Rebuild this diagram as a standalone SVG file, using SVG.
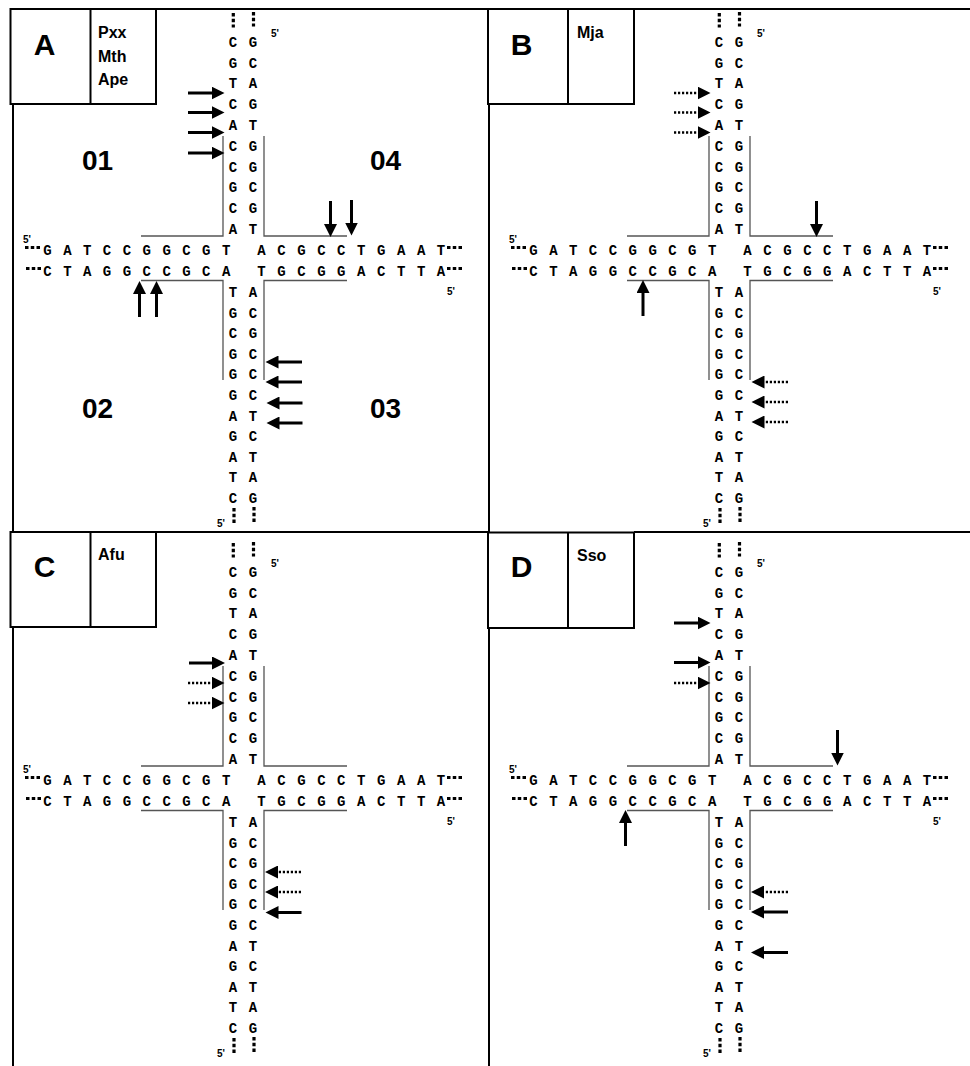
<svg xmlns="http://www.w3.org/2000/svg" width="970" height="1066" viewBox="0 0 970 1066">
<defs>
<style>
.fr{fill:none;stroke:#000;stroke-width:2}
.big{font-family:"Liberation Sans",Arial,sans-serif;font-weight:bold;font-size:30px;text-anchor:middle}
.org{font-family:"Liberation Sans",Arial,sans-serif;font-weight:bold;font-size:16px}
.num{font-family:"Liberation Sans",Arial,sans-serif;font-weight:bold;font-size:28px}
.b{font-family:"Liberation Mono","Courier New",monospace;font-weight:bold;font-size:14px;text-anchor:middle}
.p5{font-family:"Liberation Sans",Arial,sans-serif;font-weight:bold;font-size:10px}
.ln{fill:none;stroke:#555;stroke-width:1.3}
.dt{fill:none;stroke:#000;stroke-width:3.2;stroke-dasharray:3.5 2.25}
.as{fill:none;stroke:#000;stroke-width:3;marker-end:url(#ah)}
.ad{fill:none;stroke:#000;stroke-width:2.4;stroke-dasharray:2.2 1.8;marker-end:url(#ah)}
</style>
<marker id="ah" markerUnits="userSpaceOnUse" markerWidth="14" markerHeight="13" viewBox="0 0 14 13" refX="1" refY="6.5" orient="auto"><path d="M0,0L13,6.5L0,13z" fill="#000"/></marker>
</defs>
<rect width="970" height="1066" fill="#fff"/>

<g id="frames">
<path class="fr" d="M156,9H488M634,9H970M156,532H488M634,532H970M13,104V532M13,627V1066M489,104V532M489,628V1066"/>
</g>

<g id="labelA"><rect class="fr" x="10.5" y="9" width="145.5" height="95"/><path class="fr" d="M90.5,9V104"/><text class="big" x="44.5" y="55">A</text><text class="org" x="98" y="38">Pxx</text><text class="org" x="98" y="61.5">Mth</text><text class="org" x="98" y="84.5">Ape</text></g>
<g id="labelB"><rect class="fr" x="488" y="9" width="146" height="95"/><path class="fr" d="M568,9V104"/><text class="big" x="521.5" y="55">B</text><text class="org" x="577" y="38">Mja</text></g>
<g id="labelC"><rect class="fr" x="10.5" y="532" width="145.5" height="95"/><path class="fr" d="M90.5,532V627"/><text class="big" x="44.5" y="577">C</text><text class="org" x="98" y="560">Afu</text></g>
<g id="labelD"><rect class="fr" x="488" y="532.5" width="146" height="95.5"/><path class="fr" d="M568,532.5V628"/><text class="big" x="521.5" y="577">D</text><text class="org" x="577" y="560.5">Sso</text></g>

<g id="arms">
<text class="num" x="82" y="170">01</text>
<text class="num" x="370" y="170">04</text>
<text class="num" x="82" y="418">02</text>
<text class="num" x="370" y="418">03</text>
</g>

<g id="junctionA">
<path class="ln" d="M141,236H223V136M264,136V236H347M141,280.5H223V380M347,280.5H264V380"/>
<path class="dt" d="M233.3,13V27.5M253.5,12V26.5M234,508V523M254,507V522M25,247.5H40M26,268.5H41M447,247.5H462M447,268.5H462"/>
<text class="p5" x="271" y="37">5'</text><text class="p5" x="23" y="243">5'</text><text class="p5" x="447" y="295">5'</text><text class="p5" x="217" y="527">5'</text>
<text class="b" x="233 253" y="46.7">CG</text><text class="b" x="233 253" y="67.5">GC</text><text class="b" x="233 253" y="88.3">TA</text><text class="b" x="233 253" y="109.1">CG</text><text class="b" x="233 253" y="129.9">AT</text><text class="b" x="233 253" y="150.7">CG</text><text class="b" x="233 253" y="171.5">CG</text><text class="b" x="233 253" y="192.3">GC</text><text class="b" x="233 253" y="213.1">CG</text><text class="b" x="233 253" y="233.9">AT</text>
<text class="b" x="47.5 67.35 87.2 107.05 126.9 146.75 166.6 186.45 206.3 226.15" y="255">GATCCGGCGT</text><text class="b" x="261.5 281.45 301.4 321.35 341.3 361.25 381.2 401.15 421.1 441.05" y="255">ACGCCTGAAT</text>
<text class="b" x="47.5 67.35 87.2 107.05 126.9 146.75 166.6 186.45 206.3 226.15" y="275.5">CTAGGCCGCA</text><text class="b" x="261.5 281.45 301.4 321.35 341.3 361.25 381.2 401.15 421.1 441.05" y="275.5">TGCGGACTTA</text>
<text class="b" x="233 253" y="297">TA</text><text class="b" x="233 253" y="317.6">GC</text><text class="b" x="233 253" y="338.2">CG</text><text class="b" x="233 253" y="358.8">GC</text><text class="b" x="233 253" y="379.4">GC</text><text class="b" x="233 253" y="400">GC</text><text class="b" x="233 253" y="420.6">AT</text><text class="b" x="233 253" y="441.2">GC</text><text class="b" x="233 253" y="461.8">AT</text><text class="b" x="233 253" y="482.4">TA</text><text class="b" x="233 253" y="503">CG</text>
</g>

<g id="junctionB" transform="translate(486,0)">
<path class="ln" d="M141,236H223V136M264,136V236H347M141,280.5H223V380M347,280.5H264V380"/>
<path class="dt" d="M233.3,13V27.5M253.5,12V26.5M234,508V523M254,507V522M25,247.5H40M26,268.5H41M447,247.5H462M447,268.5H462"/>
<text class="p5" x="271" y="37">5'</text><text class="p5" x="23" y="243">5'</text><text class="p5" x="447" y="295">5'</text><text class="p5" x="217" y="527">5'</text>
<text class="b" x="233 253" y="46.7">CG</text><text class="b" x="233 253" y="67.5">GC</text><text class="b" x="233 253" y="88.3">TA</text><text class="b" x="233 253" y="109.1">CG</text><text class="b" x="233 253" y="129.9">AT</text><text class="b" x="233 253" y="150.7">CG</text><text class="b" x="233 253" y="171.5">CG</text><text class="b" x="233 253" y="192.3">GC</text><text class="b" x="233 253" y="213.1">CG</text><text class="b" x="233 253" y="233.9">AT</text>
<text class="b" x="47.5 67.35 87.2 107.05 126.9 146.75 166.6 186.45 206.3 226.15" y="255">GATCCGGCGT</text><text class="b" x="261.5 281.45 301.4 321.35 341.3 361.25 381.2 401.15 421.1 441.05" y="255">ACGCCTGAAT</text>
<text class="b" x="47.5 67.35 87.2 107.05 126.9 146.75 166.6 186.45 206.3 226.15" y="275.5">CTAGGCCGCA</text><text class="b" x="261.5 281.45 301.4 321.35 341.3 361.25 381.2 401.15 421.1 441.05" y="275.5">TGCGGACTTA</text>
<text class="b" x="233 253" y="297">TA</text><text class="b" x="233 253" y="317.6">GC</text><text class="b" x="233 253" y="338.2">CG</text><text class="b" x="233 253" y="358.8">GC</text><text class="b" x="233 253" y="379.4">GC</text><text class="b" x="233 253" y="400">GC</text><text class="b" x="233 253" y="420.6">AT</text><text class="b" x="233 253" y="441.2">GC</text><text class="b" x="233 253" y="461.8">AT</text><text class="b" x="233 253" y="482.4">TA</text><text class="b" x="233 253" y="503">CG</text>
</g>

<g id="junctionC" transform="translate(0,530)">
<path class="ln" d="M141,236H223V136M264,136V236H347M141,280.5H223V380M347,280.5H264V380"/>
<path class="dt" d="M233.3,13V27.5M253.5,12V26.5M234,508V523M254,507V522M25,247.5H40M26,268.5H41M447,247.5H462M447,268.5H462"/>
<text class="p5" x="271" y="37">5'</text><text class="p5" x="23" y="243">5'</text><text class="p5" x="447" y="295">5'</text><text class="p5" x="217" y="527">5'</text>
<text class="b" x="233 253" y="46.7">CG</text><text class="b" x="233 253" y="67.5">GC</text><text class="b" x="233 253" y="88.3">TA</text><text class="b" x="233 253" y="109.1">CG</text><text class="b" x="233 253" y="129.9">AT</text><text class="b" x="233 253" y="150.7">CG</text><text class="b" x="233 253" y="171.5">CG</text><text class="b" x="233 253" y="192.3">GC</text><text class="b" x="233 253" y="213.1">CG</text><text class="b" x="233 253" y="233.9">AT</text>
<text class="b" x="47.5 67.35 87.2 107.05 126.9 146.75 166.6 186.45 206.3 226.15" y="255">GATCCGGCGT</text><text class="b" x="261.5 281.45 301.4 321.35 341.3 361.25 381.2 401.15 421.1 441.05" y="255">ACGCCTGAAT</text>
<text class="b" x="47.5 67.35 87.2 107.05 126.9 146.75 166.6 186.45 206.3 226.15" y="275.5">CTAGGCCGCA</text><text class="b" x="261.5 281.45 301.4 321.35 341.3 361.25 381.2 401.15 421.1 441.05" y="275.5">TGCGGACTTA</text>
<text class="b" x="233 253" y="297">TA</text><text class="b" x="233 253" y="317.6">GC</text><text class="b" x="233 253" y="338.2">CG</text><text class="b" x="233 253" y="358.8">GC</text><text class="b" x="233 253" y="379.4">GC</text><text class="b" x="233 253" y="400">GC</text><text class="b" x="233 253" y="420.6">AT</text><text class="b" x="233 253" y="441.2">GC</text><text class="b" x="233 253" y="461.8">AT</text><text class="b" x="233 253" y="482.4">TA</text><text class="b" x="233 253" y="503">CG</text>
</g>

<g id="junctionD" transform="translate(486,530)">
<path class="ln" d="M141,236H223V136M264,136V236H347M141,280.5H223V380M347,280.5H264V380"/>
<path class="dt" d="M233.3,13V27.5M253.5,12V26.5M234,508V523M254,507V522M25,247.5H40M26,268.5H41M447,247.5H462M447,268.5H462"/>
<text class="p5" x="271" y="37">5'</text><text class="p5" x="23" y="243">5'</text><text class="p5" x="447" y="295">5'</text><text class="p5" x="217" y="527">5'</text>
<text class="b" x="233 253" y="46.7">CG</text><text class="b" x="233 253" y="67.5">GC</text><text class="b" x="233 253" y="88.3">TA</text><text class="b" x="233 253" y="109.1">CG</text><text class="b" x="233 253" y="129.9">AT</text><text class="b" x="233 253" y="150.7">CG</text><text class="b" x="233 253" y="171.5">CG</text><text class="b" x="233 253" y="192.3">GC</text><text class="b" x="233 253" y="213.1">CG</text><text class="b" x="233 253" y="233.9">AT</text>
<text class="b" x="47.5 67.35 87.2 107.05 126.9 146.75 166.6 186.45 206.3 226.15" y="255">GATCCGGCGT</text><text class="b" x="261.5 281.45 301.4 321.35 341.3 361.25 381.2 401.15 421.1 441.05" y="255">ACGCCTGAAT</text>
<text class="b" x="47.5 67.35 87.2 107.05 126.9 146.75 166.6 186.45 206.3 226.15" y="275.5">CTAGGCCGCA</text><text class="b" x="261.5 281.45 301.4 321.35 341.3 361.25 381.2 401.15 421.1 441.05" y="275.5">TGCGGACTTA</text>
<text class="b" x="233 253" y="297">TA</text><text class="b" x="233 253" y="317.6">GC</text><text class="b" x="233 253" y="338.2">CG</text><text class="b" x="233 253" y="358.8">GC</text><text class="b" x="233 253" y="379.4">GC</text><text class="b" x="233 253" y="400">GC</text><text class="b" x="233 253" y="420.6">AT</text><text class="b" x="233 253" y="441.2">GC</text><text class="b" x="233 253" y="461.8">AT</text><text class="b" x="233 253" y="482.4">TA</text><text class="b" x="233 253" y="503">CG</text>
</g>

<g id="connectors">
<path class="as" d="M188,93H212.5"/><path class="as" d="M188,112.5H212.5"/><path class="as" d="M188,132.5H212.5"/><path class="as" d="M188,153H212.5"/>
<path class="as" d="M302,362H277.5"/><path class="as" d="M302,382H277.5"/><path class="as" d="M302.5,403H278.5"/><path class="as" d="M302.5,423H278.5"/>
<path class="as" d="M330.5,201V225"/><path class="as" d="M351.5,200V223.5"/>
<path class="as" d="M139.5,317V293"/><path class="as" d="M156.5,317V293"/>

<path class="ad" d="M674,93H698.5"/><path class="ad" d="M674,112.5H698.5"/><path class="ad" d="M674,132.5H698.5"/>
<path class="ad" d="M788,382H763.5"/><path class="ad" d="M788,402H763.5"/><path class="ad" d="M788,422H763.5"/>
<path class="as" d="M816.5,201V225"/>
<path class="as" d="M643,316V292"/>

<path class="as" d="M189,663H213"/><path class="ad" d="M188,683H212.5"/><path class="ad" d="M188,703H212.5"/>
<path class="ad" d="M301,872H277"/><path class="ad" d="M301,892H277"/><path class="as" d="M301.5,912.5H277.5"/>

<path class="as" d="M674,623H698.5"/><path class="as" d="M674,662.5H698.5"/><path class="ad" d="M674,683H698.5"/>
<path class="ad" d="M788,892H763"/><path class="as" d="M788,912H763"/><path class="as" d="M788,952.5H763"/>
<path class="as" d="M837.5,730V753.5"/>
<path class="as" d="M625.5,846V822"/>
</g>
</svg>
